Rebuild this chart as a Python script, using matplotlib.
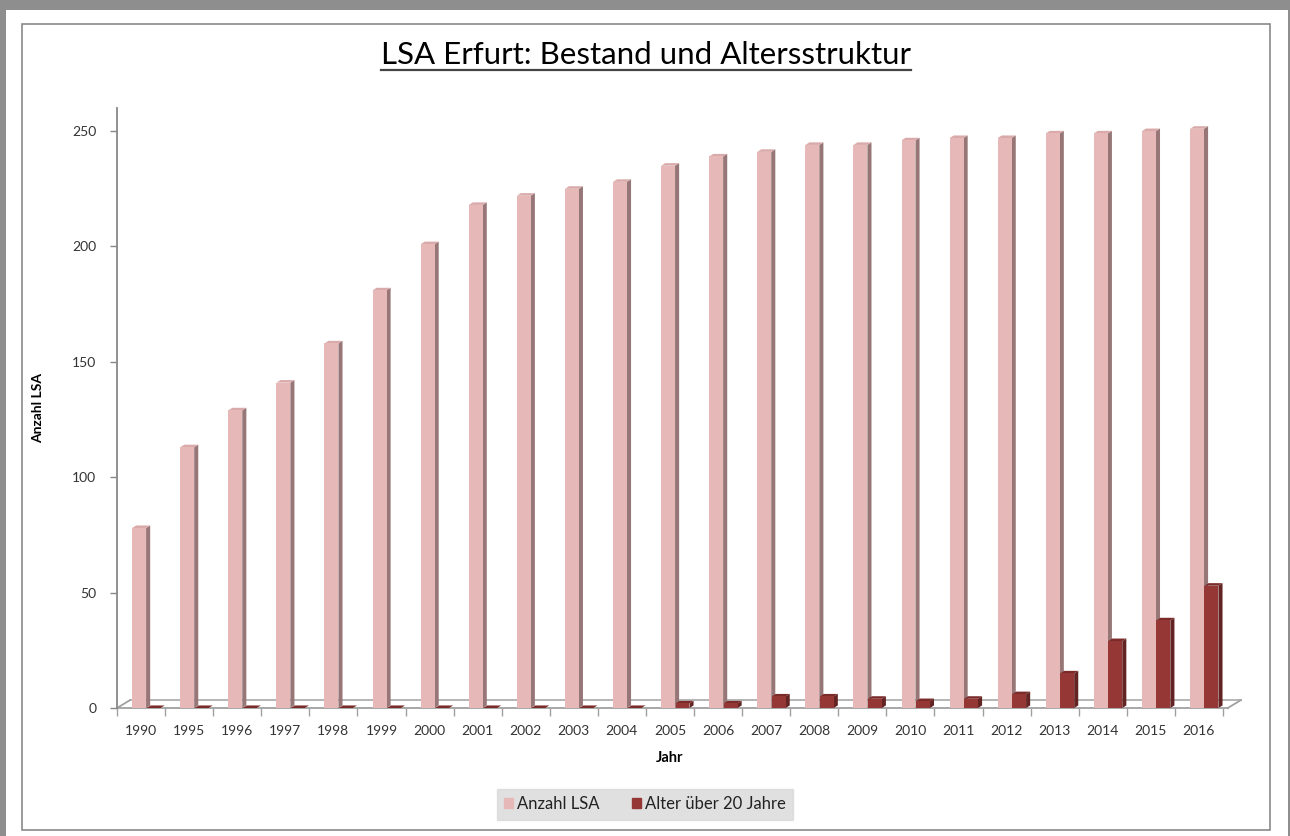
import matplotlib.pyplot as plt
from matplotlib.patches import Polygon, Rectangle
from matplotlib.lines import Line2D
import numpy as np

plt.rcParams['font.family'] = ['Lato', 'DejaVu Sans']

years = ['1990', '1995', '1996', '1997', '1998', '1999', '2000', '2001', '2002',
         '2003', '2004', '2005', '2006', '2007', '2008', '2009', '2010', '2011',
         '2012', '2013', '2014', '2015', '2016']
anzahl_lsa = [78, 113, 129, 141, 158, 181, 201, 218, 222, 225, 228, 235, 239,
              241, 244, 244, 246, 247, 247, 249, 249, 250, 251]
alter_20 = [0, 0, 0, 0, 0, 0, 0, 0, 0, 0, 0, 2, 2, 5, 5, 4, 3, 4, 6, 15, 29, 38, 53]

pink = '#e6b9b8'
pink_side = '#967676'
pink_top = '#d9aaa9'
red = '#953735'
red_side = '#632423'
red_top = '#7a2b2a'
grey = '#888888'

W, H = 1290, 836
fig = plt.figure(figsize=(W / 100, H / 100), dpi=100, facecolor='#8e8e8e')

# white page + chart border
fig.add_artist(Rectangle((6 / W, 0), 1282 / W, 1 - 10 / H, transform=fig.transFigure,
                         facecolor='white', edgecolor='none', zorder=0))
fig.add_artist(Rectangle((22 / W, 6 / H), 1248 / W, 806 / H, transform=fig.transFigure,
                         facecolor='none', edgecolor='#8a8a8a', lw=1.2, zorder=1))

ax = fig.add_axes([117 / W, 1 - 708 / H, 1106 / W, 600 / H])
ax.set_facecolor('none')

x = np.arange(len(years))
w = 0.29
dx, dy = 0.085, 1.1   # fake 3d depth


def bars3d(xc, vals, front, side, top):
    ax.bar(xc, vals, width=w, color=front, zorder=3)
    for xi, v in zip(xc, vals):
        x0, x1 = xi - w / 2, xi + w / 2
        ax.add_patch(Polygon([(x1, 0), (x1 + dx, dy), (x1 + dx, v + dy), (x1, v)],
                             closed=True, facecolor=side, edgecolor='none', zorder=2))
        ax.add_patch(Polygon([(x0, v), (x0 + dx, v + dy), (x1 + dx, v + dy), (x1, v)],
                             closed=True, facecolor=top, edgecolor='none', zorder=2))


bars3d(x - 0.04, anzahl_lsa, pink, pink_side, pink_top)
bars3d(x + 0.26, alter_20, red, red_side, red_top)

ax.set_xlim(-0.5, len(years) - 0.5)
ax.set_ylim(0, 260)

# floor
fdx, fdy = 0.27, 3.4
n = len(years)
ax.plot([-0.5, n - 0.5 + 0.1], [0, 0], color='#a0a0a0', lw=1.3, clip_on=False, zorder=1)
ax.plot([-0.5 + fdx, n - 0.5 + 0.1 + fdx], [fdy, fdy], color='#b0b0b0', lw=1.3, clip_on=False, zorder=1)
ax.plot([-0.5, -0.5 + fdx], [0, fdy], color='#a0a0a0', lw=1.3, clip_on=False, zorder=1)
ax.plot([n - 0.5 + 0.1, n - 0.5 + 0.1 + fdx], [0, fdy], color='#a0a0a0', lw=1.3, clip_on=False, zorder=1)

for s in ['top', 'right', 'bottom']:
    ax.spines[s].set_visible(False)
ax.spines['left'].set_color(grey)
ax.spines['left'].set_linewidth(1.3)

ax.set_yticks([0, 50, 100, 150, 200, 250])
ax.tick_params(axis='y', direction='out', length=5, width=1, color=grey,
               labelsize=10, labelcolor='#333333', pad=10)
ax.set_xticks(x)
ax.set_xticklabels(years)
ax.set_xticks(np.arange(-0.5, n, 1.0), minor=True)
ax.tick_params(axis='x', which='major', length=0, labelsize=10, labelcolor='#333333', pad=12)
ax.tick_params(axis='x', which='minor', direction='out', length=6, width=1, color='#a0a0a0')

ax.set_xlabel('Jahr', fontsize=10.5, fontweight='bold', labelpad=10)
ax.set_ylabel('Anzahl LSA', fontsize=10, fontweight='bold', labelpad=20)

title = fig.text(646 / W, 1 - 55 / H, 'LSA Erfurt: Bestand und Altersstruktur',
                 ha='center', va='center', fontsize=22.5, color='black')

handles = [Rectangle((0, 0), 1, 1, color=pink), Rectangle((0, 0), 1, 1, color=red)]
leg = fig.legend(handles, ['Anzahl LSA', 'Alter über 20 Jahre'], loc='center',
                 bbox_to_anchor=(645 / W, 1 - 804 / H), ncol=2, frameon=True,
                 fancybox=False, fontsize=12, handlelength=0.55, handleheight=0.55,
                 handletextpad=0.25, columnspacing=1.9, borderpad=0.45, borderaxespad=0,
                 labelcolor='#222222')
leg.get_frame().set_facecolor('#d9d9d9')
leg.get_frame().set_edgecolor('#d9d9d9')

# underline the title
fig.canvas.draw()
bb = title.get_window_extent()
ul_y = bb.y0 - 1
fig.add_artist(Line2D([bb.x0 / W, bb.x1 / W], [ul_y / H, ul_y / H], transform=fig.transFigure,
                      color='#444444', lw=1.6))

fig.savefig('out.png', dpi=100, facecolor=fig.get_facecolor())
